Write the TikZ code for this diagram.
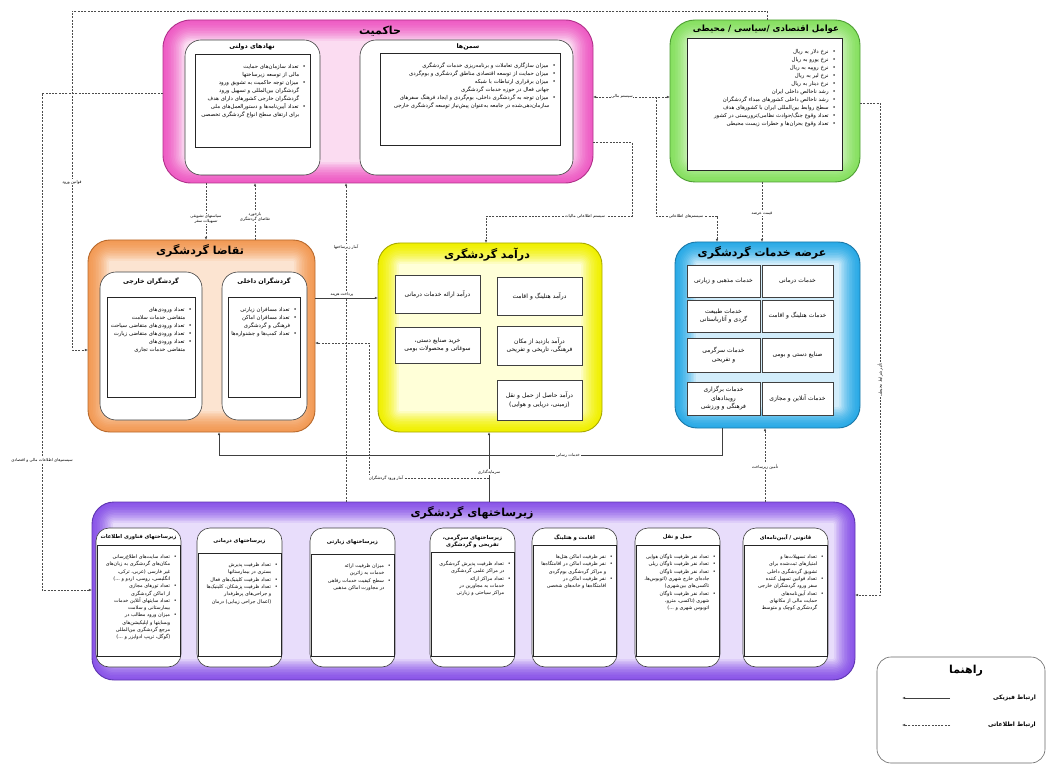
\documentclass[tikz,border=0pt]{standalone}
\usepackage{fontspec}
\newfontfamily\fa[Script=Arabic]{DejaVu Sans}
\TeXXeTstate=1
\usetikzlibrary{fit,arrows.meta}

\definecolor{pinkO}{HTML}{EE5CC4}\definecolor{pinkI}{HTML}{FBDDF2}\definecolor{pinkE}{HTML}{B0308A}
\definecolor{greenO}{HTML}{86E060}\definecolor{greenI}{HTML}{E6F9DA}\definecolor{greenE}{HTML}{4E9E33}
\definecolor{orangeO}{HTML}{F29A55}\definecolor{orangeI}{HTML}{FCE5D2}\definecolor{orangeE}{HTML}{B8692C}
\definecolor{yellowO}{HTML}{F0F000}\definecolor{yellowI}{HTML}{FFFFDA}\definecolor{yellowE}{HTML}{A8A800}
\definecolor{blueO}{HTML}{2AAAE6}\definecolor{blueI}{HTML}{D4EEFB}\definecolor{blueE}{HTML}{1B78A8}
\definecolor{purpleO}{HTML}{8A55E8}\definecolor{purpleI}{HTML}{E9DEFB}\definecolor{purpleE}{HTML}{5E35B0}

% right-to-left text
\newcommand{\rtl}[1]{\beginR#1\endR}
% bulleted right-to-left item, continuation lines indented on the right
\newcommand{\itm}[1]{\par\noindent\hangindent=-6.5pt\hangafter=1\relax\beginR•\kern4pt #1\endR\par}

% rounded box with an inner glow: name, x1, y1, x2, y2, rim colour, centre colour, edge colour, radius
\newcommand{\glowbox}[9]{%
  \foreach \i in {0,...,13}{%
    \pgfmathsetmacro\gp{int(\i*(\i+7)/2.6)}%
    \pgfmathsetmacro\gr{max(#9-\i*1.6,2)}%
    \pgfmathsetmacro\gd{\i*1.6}%
    \fill[#7!\gp!#6, rounded corners=\gr pt] ({#2+\gd},{#3+\gd}) rectangle ({#4-\gd},{#5-\gd});
  }%
  \node[fit={(#2,#3) (#4,#5)}, inner sep=0pt, outer sep=0pt, draw=#8, line width=0.9pt, rounded corners=#9pt] (#1) {};
}

% one column of the infrastructure panel: name, left x, top of list frame, title, items
\newcommand{\infracol}[5]{%
  \node[subbox, rounded corners=13pt, fit={(#2,528) ({#2+85},667)}] (#1) {};
  \node[listbox, fit={({#2+1},#3) ({#2+84},656)}] (#1r) {};
  \node[subtitle, font=\fa\bfseries\fontsize{5.3}{7}\selectfont, text width=83pt] (#1t) at ({#2+42.5},{(528+#3)/2+1}) {#4};
  \node[lst=75pt, font=\fa\fontsize{4.9}{7.3}\selectfont] (#1l) at ({#2+81},{#3+6}) {#5};
}

\tikzset{
  bigtitle/.style={font=\fa\bfseries\fontsize{11}{13}\selectfont, inner sep=1pt},
  subtitle/.style={font=\fa\bfseries\fontsize{6.3}{8}\selectfont, inner sep=0.5pt, align=center},
  subbox/.style={draw=black!75, fill=white, line width=0.6pt, rounded corners=16pt, inner sep=0pt, outer sep=0pt},
  listbox/.style={draw=black!85, fill=white, line width=0.8pt, inner sep=0pt, outer sep=0pt},
  lst/.style={anchor=north east, text width=#1, align=right, font=\fa\fontsize{5.4}{8}\selectfont, inner sep=0pt},
  cellbox/.style={draw=black!75, fill=white, line width=0.7pt, align=center, font=\fa\fontsize{6}{8.5}\selectfont, inner sep=1pt},
  lab/.style={font=\fa\fontsize{4}{4.8}\selectfont, fill=white, inner sep=0.6pt, align=center},
  info/.style={draw=black!70, line width=0.5pt, dash pattern=on 2pt off 1.3pt, -{Latex[length=3.2pt,width=2.6pt]}},
  phys/.style={draw=black!75, line width=0.7pt, -{Latex[length=3.2pt,width=2.6pt]}},
  legtext/.style={font=\fa\bfseries\fontsize{6}{7}\selectfont, anchor=east, inner sep=0pt},
}

\begin{document}
\begin{tikzpicture}[x=1pt,y=-1pt]
\useasboundingbox (0,0) rectangle (1049,767);
\fill[white] (0,0) rectangle (1049,767);

% ---------- governance ----------
\glowbox{gov}{163}{20}{593}{183}{pinkO}{pinkI}{pinkE}{28}
\node[bigtitle] (govT) at (380,31) {\rtl{حاکمیت}};
\node[subbox, fit={(185,40) (320,175)}] (govA) {};
\node[subtitle] (govAt) at (252,47) {\rtl{نهادهای دولتی}};
\node[listbox, fit={(195,54) (310,147)}] (govAr) {};
\node[lst=106pt] (govAl) at (306,60) {%
\itm{تعداد سازمان‌های حمایت مالی از توسعه زیرساختها}
\itm{میزان توجه حاکمیت به تشویق ورود گردشگران بین‌المللی و تسهیل ورود گردشگران خارجی کشورهای دارای هدف}
\itm{تعداد آیین‌نامه‌ها و دستورالعمل‌های ملی برای ارتقای سطح انواع گردشگری تخصصی}};
\node[subbox, fit={(360,40) (573,175)}] (govB) {};
\node[subtitle] (govBt) at (468,47) {\rtl{سمن‌ها}};
\node[listbox, fit={(380,53) (560,145)}] (govBr) {};
\node[lst=170pt] (govBl) at (556,59) {%
\itm{میزان سازگاری تعاملات و برنامه‌ریزی خدمات گردشگری}
\itm{میزان حمایت از توسعه اقتصادی مناطق گردشگری و بوم‌گردی}
\itm{میزان برقراری ارتباطات با شبکه جهانی فعال در حوزه خدمات گردشگری}
\itm{میزان توجه به گردشگری داخلی، بوم‌گردی و ایجاد فرهنگ سفرهای سازمان‌دهی‌شده در جامعه به‌عنوان پیش‌نیاز توسعه گردشگری خارجی}};

% ---------- economic / political / environmental factors ----------
\glowbox{econ}{670}{20}{860}{182}{greenO}{greenI}{greenE}{25}
\node[bigtitle, font=\fa\bfseries\fontsize{8.6}{10}\selectfont] (econT) at (766,29) {\rtl{عوامل اقتصادی /سیاسی / محیطی}};
\node[listbox, fit={(687,38) (842,170)}] (econr) {};
\node[lst=142pt] (econl) at (836,45) {%
\itm{نرخ دلار به ریال}
\itm{نرخ یورو به ریال}
\itm{نرخ روپیه به ریال}
\itm{نرخ لیر به ریال}
\itm{نرخ دینار به ریال}
\itm{رشد ناخالص داخلی ایران}
\itm{رشد ناخالص داخلی کشورهای مبداء گردشگران}
\itm{سطح روابط بین‌المللی ایران با کشورهای هدف}
\itm{تعداد وقوع جنگ/حوادث نظامی/تروریستی در کشور}
\itm{تعداد وقوع بحران‌ها و خطرات زیست محیطی}};

% ---------- tourism demand ----------
\glowbox{demand}{88}{240}{315}{432}{orangeO}{orangeI}{orangeE}{22}
\node[bigtitle] (demandT) at (200,251) {\rtl{تقاضا گردشگری}};
\node[subbox, fit={(100,272) (202,420)}] (demA) {};
\node[subtitle] (demAt) at (151,281) {\rtl{گردشگران خارجی}};
\node[listbox, fit={(107,297) (195,397)}] (demAr) {};
\node[lst=82pt] (demAl) at (192,303) {%
\itm{تعداد ورودی‌های متقاضی خدمات سلامت}
\itm{تعداد ورودی‌های متقاضی سیاحت}
\itm{تعداد ورودی‌های متقاضی زیارت}
\itm{تعداد ورودی‌های متقاضی خدمات تجاری}};
\node[subbox, fit={(222,272) (307,420)}] (demB) {};
\node[subtitle] (demBt) at (264,281) {\rtl{گردشگران داخلی}};
\node[listbox, fit={(228,297) (300,397)}] (demBr) {};
\node[lst=66pt] (demBl) at (297,303) {%
\itm{تعداد مسافران زیارتی}
\itm{تعداد مسافران اماکن فرهنگی و گردشگری}
\itm{تعداد کمپ‌ها و جشنواره‌ها}};

% ---------- tourism revenue ----------
\glowbox{rev}{378}{243}{602}{432}{yellowO}{yellowI}{yellowE}{22}
\node[bigtitle] (revT) at (487,255) {\rtl{درآمد گردشگری}};
\node[cellbox, minimum width=85pt, minimum height=38pt, text width=78pt] (rv1) at (437.5,294) {\rtl{درآمد ارائه خدمات درمانی}};
\node[cellbox, minimum width=85pt, minimum height=38pt, text width=78pt] (rv2) at (539.5,296) {\rtl{درآمد هتلینگ و اقامت}};
\node[cellbox, minimum width=85pt, minimum height=36pt, text width=78pt] (rv3) at (437.5,345) {\rtl{خرید صنایع دستی، سوغاتی و محصولات بومی}};
\node[cellbox, minimum width=85pt, minimum height=39pt, text width=78pt] (rv4) at (539.5,345.5) {\rtl{درآمد بازدید از مکان فرهنگی، تاریخی و تفریحی}};
\node[cellbox, minimum width=85pt, minimum height=40pt, text width=78pt] (rv5) at (539.5,400) {\rtl{درآمد حاصل از حمل و نقل (زمینی، دریایی و هوایی)}};

% ---------- tourism services supply ----------
\glowbox{supply}{675}{242}{860}{428}{blueO}{blueI}{blueE}{22}
\node[bigtitle] (supplyT) at (762,253) {\rtl{عرضه خدمات گردشگری}};
\node[cellbox, minimum width=73pt, minimum height=32pt, text width=66pt] (sp1) at (723.5,281) {\rtl{خدمات مذهبی و زیارتی}};
\node[cellbox, minimum width=71pt, minimum height=32pt, text width=64pt] (sp2) at (797.5,281) {\rtl{خدمات درمانی}};
\node[cellbox, minimum width=73pt, minimum height=32pt, text width=66pt] (sp3) at (723.5,316) {\rtl{خدمات طبیعت گردی و آثارباستانی}};
\node[cellbox, minimum width=71pt, minimum height=32pt, text width=64pt] (sp4) at (797.5,316) {\rtl{خدمات هتلینگ و اقامت}};
\node[cellbox, minimum width=73pt, minimum height=34pt, text width=66pt] (sp5) at (723.5,355) {\rtl{خدمات سرگرمی و تفریحی}};
\node[cellbox, minimum width=71pt, minimum height=34pt, text width=64pt] (sp6) at (797.5,355) {\rtl{صنایع دستی و بومی}};
\node[cellbox, minimum width=73pt, minimum height=33pt, text width=66pt] (sp7) at (723.5,398.5) {\rtl{خدمات برگزاری رویدادهای فرهنگی و ورزشی}};
\node[cellbox, minimum width=71pt, minimum height=33pt, text width=64pt] (sp8) at (797.5,398.5) {\rtl{خدمات آنلاین و مجازی}};

% ---------- tourism infrastructure ----------
\glowbox{infra}{92}{502}{855}{680}{purpleO}{purpleI}{purpleE}{22}
\node[bigtitle] (infraT) at (472,513) {\rtl{زیرساختهای گردشگری}};
\infracol{icL}{743}{545}{\rtl{قانونی / آیین‌نامه‌ای}}{%
\itm{تعداد تسهیلات‌ها و امتیازهای ثبت‌شده برای تشویق گردشگری داخلی}
\itm{تعداد قوانین تسهیل کننده سفر ورود گردشگران خارجی}
\itm{تعداد آیین‌نامه‌های حمایت مالی از مکانهای گردشگری کوچک و متوسط}}
\infracol{icT}{635}{545}{\rtl{حمل و نقل}}{%
\itm{تعداد نفر ظرفیت ناوگان هوایی}
\itm{تعداد نفر ظرفیت ناوگان ریلی}
\itm{تعداد نفر ظرفیت ناوگان جاده‌ای خارج شهری (اتوبوس‌ها، تاکسی‌های بین‌شهری)}
\itm{تعداد نفر ظرفیت ناوگان شهری (تاکسی، مترو، اتوبوس شهری و ...)}}
\infracol{icH}{532}{545}{\rtl{اقامت و هتلینگ}}{%
\itm{نفر ظرفیت اماکن هتل‌ها}
\itm{نفر ظرفیت اماکن در اقامتگاه‌ها و مراکز گردشگری بوم‌گردی}
\itm{نفر ظرفیت اماکن در اقامتگاه‌ها و خانه‌های شخصی}}
\infracol{icE}{430}{552}{\rtl{زیرساختهای سرگرمی، تفریحی و گردشگری}}{%
\itm{تعداد ظرفیت پذیرش گردشگری در مراکز علمی گردشگری}
\itm{تعداد مراکز ارائه خدمات به مجاورین در مراکز سیاحتی و زیارتی}}
\infracol{icP}{310}{554}{\rtl{زیرساختهای زیارتی}}{%
\itm{میزان ظرفیت ارائه خدمات به زائرین}
\itm{سطح کیفیت خدمات رفاهی در مجاورت اماکن مذهبی}}
\infracol{icM}{197}{553}{\rtl{زیرساختهای درمانی}}{%
\itm{تعداد ظرفیت پذیرش بستری در بیمارستانها}
\itm{تعداد ظرفیت کلینیک‌های فعال}
\itm{تعداد ظرفیت پزشکان، کلینیک‌ها و جراحی‌های پرطرفدار (اعمال جراحی زیبایی) درمان}}
\infracol{icI}{96}{545}{\rtl{زیرساختهای فناوری اطلاعات}}{%
\itm{تعداد سایت‌های اطلاع‌رسانی مکان‌های گردشگری به زبان‌های غیر فارسی (عربی، ترکی، انگلیسی، روسی، اردو و ...)}
\itm{تعداد تورهای مجازی از اماکن گردشگری}
\itm{تعداد سایتهای آنلاین خدمات بیمارستانی و سلامت}
\itm{میزان ورود مطالب در وبسایتها و اپلیکیشن‌های مرجع گردشگری بین‌المللی (گوگل، تریپ ادوایزر و ...)}}

% ---------- connectors ----------
\coordinate (jE) at (656,97);
\coordinate (jI) at (489,478);
\draw[info] (econ.north -| 767,0) -- (767,11) -| (72,350) -- (demand.west |- 0,350);
\draw[info] (gov.west |- 0,93) -| (42,590) -- (infra.west |- 0,590);
\draw[info] (gov.south -| 206,0) -- (demand.north -| 206,0);
\draw[info] (demand.north -| 255,0) -- (gov.south -| 255,0);
\draw[info] (infra.north -| 346,0) -- (gov.south -| 346,0);
\draw[info, {Latex[length=3.2pt,width=2.6pt]}-{Latex[length=3.2pt,width=2.6pt]}] (econ.west |- jE) -- (gov.east |- jE);
\draw[info] (jE) |- (717,216) -- (supply.north -| 717,0);
\draw[info] (gov.east |- 0,142) -| (632,216) -| (rev.north -| 486,0);
\draw[info] (econ.south -| 762,0) -- (supply.north -| 762,0);
\draw[phys] (demand.east |- 0,298) -- (rev.west |- 0,298);
\draw[info] (jI) -| (369,343) -- (demand.east |- 0,343);
\draw[phys] (supply.south -| 722,0) |- (219,455) -- (demand.south -| 219,0);
\draw[phys] (infra.north -| jI) -- (rev.south -| jI);
\draw[info] (infra.north -| 765,0) -- (supply.south -| 765,0);
\draw[info] (econ.east |- 0,103) -| (880,595) -- (infra.east |- 0,595);

% connector labels
\node[lab] (lbA) at (72,182) {\rtl{قوانین ورود}};
\node[lab] (lbB) at (42,460) {\rtl{سیستم‌های اطلاعات مالی و اقتصادی}};
\node[lab] (lbC) at (206,219) {\rtl{سیاستهای تشویقی}\\\rtl{تسهیلات سفر}};
\node[lab] (lbD) at (255,217) {\rtl{بازخورد}\\\rtl{تقاضای گردشگری}};
\node[lab] (lbE) at (346,247) {\rtl{آمار زیرساختها}};
\node[lab] (lbF) at (622,96) {\rtl{سیستم مالی}};
\node[lab] (lbG) at (585,216) {\rtl{سیستم اطلاعاتی مالیات}};
\node[lab] (lbH) at (686,216) {\rtl{سیستم‌های اطلاعاتی}};
\node[lab] (lbI) at (762,214) {\rtl{قیمت عرضه}};
\node[lab] (lbJ) at (342,294) {\rtl{پرداخت هزینه}};
\node[lab] (lbK) at (386,478) {\rtl{آمار ورود گردشگران}};
\node[lab] (lbL) at (568,455) {\rtl{خدمات رسانی}};
\node[lab] (lbM) at (489,472) {\rtl{سرمایه‌گذاری}};
\node[lab] (lbN) at (765,467) {\rtl{تأمین زیرساخت}};
\node[lab, rotate=90] (lbO) at (880,380) {\rtl{تأثیر شرایط محیطی}};

% ---------- legend ----------
\node[draw=black!60, line width=0.6pt, rounded corners=14pt, fill=white, fit={(877,657) (1045,763)}, inner sep=0pt] (leg) {};
\node[bigtitle] (legT) at (966,671) {\rtl{راهنما}};
\node[legtext] (legA) at (1036,698) {\rtl{ارتباط فیزیکی}};
\node[legtext] (legB) at (1036,725) {\rtl{ارتباط اطلاعاتی}};
\coordinate (legA1) at (950,698); \coordinate (legA2) at (902,698);
\coordinate (legB1) at (950,725); \coordinate (legB2) at (902,725);
\draw[phys] (legA1) -- (legA2);
\draw[info] (legB1) -- (legB2);
\end{tikzpicture}
\end{document}
